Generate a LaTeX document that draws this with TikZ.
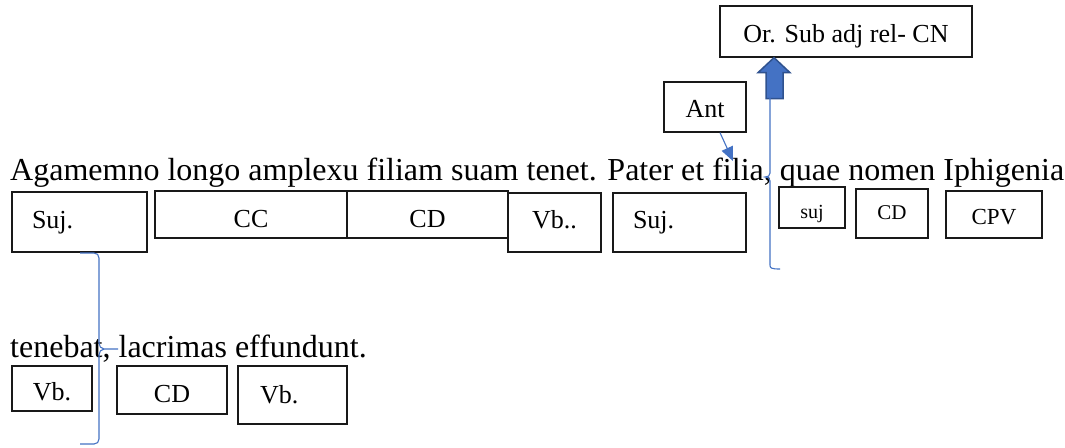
\documentclass[tikz,border=0pt]{standalone}
\usepackage{fontspec}
\setmainfont{Liberation Serif}
\usetikzlibrary{arrows.meta}
\definecolor{wblue}{HTML}{4472C4}
\definecolor{wdark}{HTML}{2F528F}
\tikzset{
  sentence/.style={anchor=base west, inner sep=0pt, font=\fontsize{32}{38}\selectfont},
  wbox/.style={draw=black!90, line width=1.3pt, inner xsep=0pt, inner ysep=0pt,
    align=center, font=\fontsize{26}{30}\selectfont},
  bluel/.style={draw=wblue, line width=1.1pt},
}
% [opts]{name}{cx}{cy}{w}{h}{baseline offset from top}{text}
\newcommand{\bx}[8][]{%
  \node[wbox, minimum width=#5pt, minimum height=#6pt,
    text height=\the\dimexpr #7pt-1pt\relax,
    text depth=\the\dimexpr #6pt-1pt-#7pt\relax, #1] (#2) at (#3,#4) {#8};}
\begin{document}
\begin{tikzpicture}[x=1pt,y=-1pt]
\useasboundingbox (0,0) rectangle (1065,447);
\fill[white] (0,0) rectangle (1065,447);

% sentences
\node[sentence] (s1) at (10,180) {Agamemno longo amplexu filiam suam tenet. Pater et filia, quae nomen Iphigenia};
\node[sentence] (s2) at (10,357) {tenebat, lacrimas effundunt.};

% top boxes
\bx{ors}{846}{31.5}{252}{51}{36}{Or. Sub adj rel- CN}
\bx{ant}{705}{107}{82}{50}{35}{Ant}

% row 1
\bx[text width=115pt, align=left, inner xsep=10pt]{suja}{79.5}{222}{135}{60}{36}{\hspace*{10pt}Suj.}
\bx{cc}{251}{214.5}{192}{47}{36}{CC}
\bx{cda}{427.5}{214.5}{161}{47}{36}{CD}
\bx{vba}{554.5}{222.5}{93}{59}{35}{Vb..}
\bx[text width=113pt, align=left, inner xsep=10pt]{sujb}{679.5}{222.5}{133}{59}{35}{\hspace*{10pt}Suj.}
\bx[font=\fontsize{20}{24}\selectfont]{sujc}{812}{207.5}{66}{41}{31}{suj}
\bx[font=\fontsize{21}{25}\selectfont]{cdb}{892}{213.5}{72}{49}{30}{CD}
\bx[font=\fontsize{23}{27}\selectfont]{cpv}{994}{214.5}{96}{47}{33}{CPV}

% row 2
\bx{vbb}{52}{388.5}{80}{45}{34}{Vb.}
\bx{cdc}{172}{390}{110}{48}{36}{CD}
\bx[text width=89pt, align=left, inner xsep=10pt]{vbc}{292.5}{395}{109}{58}{37}{\hspace*{12pt}Vb.}

% block arrow up to the relative clause box
\coordinate (tip) at ([xshift=-72pt]ors.south);
\filldraw[fill=wblue, draw=wdark, line width=1.5pt, line join=miter]
  (tip) -- ++(16,15) -- ++(-7,0) -- ++(0,26) -- ++(-17,0) -- ++(0,-26) -- ++(-8,0) -- cycle;

% brace from the arrow down past "quae"
\coordinate (bt) at (770,98);
\draw[bluel] (bt) -- (770,173) .. controls (770,176) and (768,177) .. (765,177)
  .. controls (768,177) and (770,178) .. (770,181) -- (770,265)
  .. controls (770,268) and (771,269) .. (780,269);

% Ant arrow
\coordinate (antend) at (733,161);
\draw[bluel, -{Triangle[length=14pt,width=12pt]}] ([xshift=15pt]ant.south) -- (antend);

% brace under Suj.
\coordinate (bl) at (80,253);
\draw[bluel] (bl) -- (94,253) .. controls (97,253) and (99,255) .. (99,258) -- (99,343)
  .. controls (99,346) and (101,349) .. (104,349) -- (118,349);
\draw[bluel] (104,349) .. controls (101,349) and (99,352) .. (99,355) -- (99,439)
  .. controls (99,442) and (97,444) .. (94,444) -- (80,444);
\end{tikzpicture}
\end{document}
